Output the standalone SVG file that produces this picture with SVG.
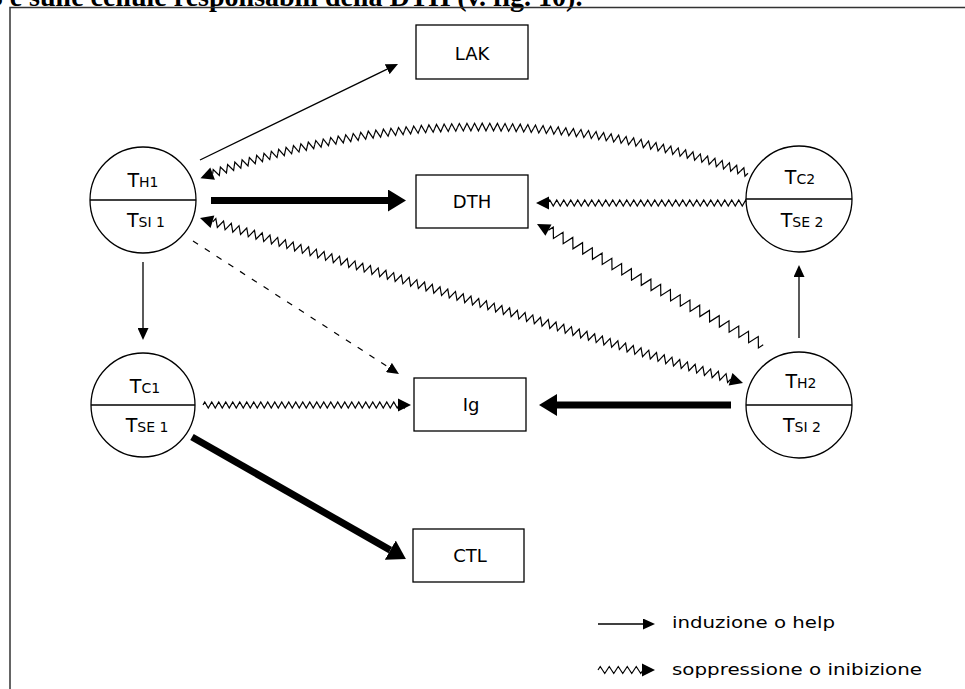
<svg xmlns="http://www.w3.org/2000/svg" xmlns:xlink="http://www.w3.org/1999/xlink" width="965" height="689" viewBox="0 0 965 689">
<style>
.ln{stroke:#000;stroke-width:1.3;fill:none}
.dash{stroke:#000;stroke-width:1.2;fill:none;stroke-dasharray:6 8}
.thick{stroke:#000;stroke-width:7;fill:none}
.zz{stroke:#000;stroke-width:1.2;fill:none;stroke-linejoin:miter}
.box{fill:#fff;stroke:#000;stroke-width:1.3}
.cir{fill:#fff;stroke:#000;stroke-width:1.3}
text{font-family:"DejaVu Sans","Liberation Sans",sans-serif;fill:#000}
.lbl{font-size:18px;text-anchor:middle}
.cl{font-size:14px;text-anchor:middle}
.big{font-size:19px}
.leg{font-size:16px}
</style>
<defs>
<marker id="mt" markerUnits="userSpaceOnUse" markerWidth="12" markerHeight="11" refX="0" refY="5.5" orient="auto" viewBox="0 0 12 11"><path d="M0,0 L12,5.5 L0,11 z" fill="#000"/></marker>
<marker id="mT" markerUnits="userSpaceOnUse" markerWidth="18" markerHeight="22" refX="0" refY="11" orient="auto" viewBox="0 0 18 22"><path d="M0,0 L18,11 L0,22 z" fill="#000"/></marker>
<polygon id="ah" points="0,0 -13,-6.5 -13,6.5" fill="#000"/>
<path id="t1" class="zz" d="M481,127 l1.896,-3.8 3.792,7.6 1.896,-3.8"/>
<g id="t2"><use href="#t1"/><use href="#t1" transform="rotate(0.5472 481 921)"/></g>
<g id="t4"><use href="#t2"/><use href="#t2" transform="rotate(1.0944 481 921)"/></g>
<g id="t8"><use href="#t4"/><use href="#t4" transform="rotate(2.1888 481 921)"/></g>
<g id="t16"><use href="#t8"/><use href="#t8" transform="rotate(4.3776 481 921)"/></g>
<g id="t32"><use href="#t16"/><use href="#t16" transform="rotate(8.7552 481 921)"/></g>
<g id="t64"><use href="#t32"/><use href="#t32" transform="rotate(17.5104 481 921)"/></g>
</defs>
<rect width="965" height="689" fill="#fff"/>
<text x="-16" y="6" style="font-family:'Liberation Serif','Times New Roman',serif;font-weight:bold;font-size:28px">B e sulle cellule responsabili della DTH (v. fig. 10).</text>
<path d="M10,689 V7.5 H965" fill="none" stroke="#333" stroke-width="1.5"/>

<g id="connectors">
<line class="ln" x1="200" y1="160" x2="387.2" y2="69.2" marker-end="url(#mt)"/>
<line class="ln" x1="143" y1="262" x2="143" y2="328" marker-end="url(#mt)"/>
<line class="ln" x1="799" y1="338" x2="799" y2="277" marker-end="url(#mt)"/>
<line class="dash" x1="193" y1="241" x2="388.9" y2="367.5" marker-end="url(#mt)"/>
<line class="thick" x1="211" y1="200.5" x2="388" y2="200.5" marker-end="url(#mT)"/>
<line class="thick" x1="731" y1="405" x2="557" y2="405" marker-end="url(#mT)"/>
<line class="thick" x1="192" y1="437" x2="390.3" y2="550.1" marker-end="url(#mT)"/>

<g id="zz-arch">
<g transform="rotate(-19.75 481 921)"><use href="#t64"/><use href="#t8" transform="rotate(35.0208 481 921)"/></g>
<use href="#ah" transform="rotate(-20.69 481 921) translate(481,127) rotate(180)"/>
</g>
<g id="zz-tc2-dth">
<path class="zz" d="M548,203 l1.75,-3 3.5,6 3.5,-6 3.5,6 3.5,-6 3.5,6 3.5,-6 3.5,6 3.5,-6 3.5,6 3.5,-6 3.5,6 3.5,-6 3.5,6 3.5,-6 3.5,6 3.5,-6 3.5,6 3.5,-6 3.5,6 3.5,-6 3.5,6 3.5,-6 3.5,6 3.5,-6 3.5,6 3.5,-6 3.5,6 3.5,-6 3.5,6 3.5,-6 3.5,6 3.5,-6 3.5,6 3.5,-6 3.5,6 3.5,-6 3.5,6 3.5,-6 3.5,6 3.5,-6 3.5,6 3.5,-6 3.5,6 3.5,-6 3.5,6 3.5,-6 3.5,6 3.5,-6 3.5,6 3.5,-6 3.5,6 3.5,-6 3.5,6 3.5,-6 3.5,6 3.5,-6 3.5,6 1.75,-3"/>
<use href="#ah" transform="translate(536,203) rotate(180)"/>
</g>
<g id="zz-tc1-ig">
<path class="zz" d="M203,405 l1.75,-3 3.5,6 3.5,-6 3.5,6 3.5,-6 3.5,6 3.5,-6 3.5,6 3.5,-6 3.5,6 3.5,-6 3.5,6 3.5,-6 3.5,6 3.5,-6 3.5,6 3.5,-6 3.5,6 3.5,-6 3.5,6 3.5,-6 3.5,6 3.5,-6 3.5,6 3.5,-6 3.5,6 3.5,-6 3.5,6 3.5,-6 3.5,6 3.5,-6 3.5,6 3.5,-6 3.5,6 3.5,-6 3.5,6 3.5,-6 3.5,6 3.5,-6 3.5,6 3.5,-6 3.5,6 3.5,-6 3.5,6 3.5,-6 3.5,6 3.5,-6 3.5,6 3.5,-6 3.5,6 3.5,-6 3.5,6 3.5,-6 3.5,6 3.5,-6 3.5,6 3.5,-6 3.5,6 1.75,-3"/>
<use href="#ah" transform="translate(411,405)"/>
</g>
<g id="zz-th1-th2" transform="translate(200,218) rotate(16.9)">
<path class="zz" d="M13.3,0 l2.02,-4 4.04,8 4.04,-8 4.04,8 4.04,-8 4.04,8 4.04,-8 4.04,8 4.04,-8 4.04,8 4.04,-8 4.04,8 4.04,-8 4.04,8 4.04,-8 4.04,8 4.04,-8 4.04,8 4.04,-8 4.04,8 4.04,-8 4.04,8 4.04,-8 4.04,8 4.04,-8 4.04,8 4.04,-8 4.04,8 4.04,-8 4.04,8 4.04,-8 4.04,8 4.04,-8 4.04,8 4.04,-8 4.04,8 4.04,-8 4.04,8 4.04,-8 4.04,8 4.04,-8 4.04,8 4.04,-8 4.04,8 4.04,-8 4.04,8 4.04,-8 4.04,8 4.04,-8 4.04,8 4.04,-8 4.04,8 4.04,-8 4.04,8 4.04,-8 4.04,8 4.04,-8 4.04,8 4.04,-8 4.04,8 4.04,-8 4.04,8 4.04,-8 4.04,8 4.04,-8 4.04,8 4.04,-8 4.04,8 4.04,-8 4.04,8 4.04,-8 4.04,8 4.04,-8 4.04,8 4.04,-8 4.04,8 4.04,-8 4.04,8 4.04,-8 4.04,8 4.04,-8 4.04,8 4.04,-8 4.04,8 4.04,-8 4.04,8 4.04,-8 4.04,8 4.04,-8 4.04,8 4.04,-8 4.04,8 4.04,-8 4.04,8 4.04,-8 4.04,8 4.04,-8 4.04,8 4.04,-8 4.04,8 4.04,-8 4.04,8 4.04,-8 4.04,8 4.04,-8 4.04,8 4.04,-8 4.04,8 4.04,-8 4.04,8 4.04,-8 4.04,8 4.04,-8 4.04,8 4.04,-8 4.04,8 4.04,-8 4.04,8 4.04,-8 4.04,8 4.04,-8 4.04,8 4.04,-8 4.04,8 4.04,-8 4.04,8 4.04,-8 4.04,8 4.04,-8 4.04,8 4.04,-8 4.04,8 4.04,-8 4.04,8 2.02,-4"/>
<use href="#ah" transform="rotate(180)"/>
<use href="#ah" transform="translate(567.5,0)"/>
</g>
<g id="zz-th2-dth" transform="translate(537,224) rotate(28.1)">
<path class="zz" d="M13,0 l2.766,-5 5.533,10 5.533,-10 5.533,10 5.533,-10 5.533,10 5.533,-10 5.533,10 5.533,-10 5.533,10 5.533,-10 5.533,10 5.533,-10 5.533,10 5.533,-10 5.533,10 5.533,-10 5.533,10 5.533,-10 5.533,10 5.533,-10 5.533,10 5.533,-10 5.533,10 5.533,-10 5.533,10 5.533,-10 5.533,10 5.533,-10 5.533,10 5.533,-10 5.533,10 5.533,-10 5.533,10 5.533,-10 5.533,10 5.533,-10 5.533,10 5.533,-10 5.533,10 5.533,-10 5.533,10 5.533,-10 5.533,10 2.766,-5"/>
<use href="#ah" transform="rotate(180)"/>
</g>
</g>

<g id="n-lak"><rect class="box" x="416" y="25" width="112" height="54"/><text class="lbl" x="472" y="60">LAK</text></g>
<g id="n-dth"><rect class="box" x="416" y="175" width="112" height="53"/><text class="lbl" x="472" y="208">DTH</text></g>
<g id="n-ig"><rect class="box" x="414" y="378" width="112" height="53"/><text class="lbl" x="471" y="411">Ig</text></g>
<g id="n-ctl"><rect class="box" x="413" y="529" width="111" height="53"/><text class="lbl" x="470" y="562">CTL</text></g>

<g id="n-th1"><circle class="cir" cx="143" cy="200" r="53"/><line class="ln" x1="90" y1="200" x2="196" y2="200"/>
<text class="cl" x="143" y="187"><tspan class="big">T</tspan>H1</text><text class="cl" x="146" y="227"><tspan class="big">T</tspan>SI 1</text></g>
<g id="n-tc1"><circle class="cir" cx="143" cy="405" r="52"/><line class="ln" x1="91" y1="405" x2="195" y2="405"/>
<text class="cl" x="145" y="393"><tspan class="big">T</tspan>C1</text><text class="cl" x="147" y="432"><tspan class="big">T</tspan>SE 1</text></g>
<g id="n-tc2"><circle class="cir" cx="799" cy="199" r="53"/><line class="ln" x1="746" y1="199" x2="852" y2="199"/>
<text class="cl" x="800" y="184"><tspan class="big">T</tspan>C2</text><text class="cl" x="802" y="227"><tspan class="big">T</tspan>SE 2</text></g>
<g id="n-th2"><circle class="cir" cx="799" cy="405" r="53"/><line class="ln" x1="746" y1="405" x2="852" y2="405"/>
<text class="cl" x="801" y="388"><tspan class="big">T</tspan>H2</text><text class="cl" x="802" y="432"><tspan class="big">T</tspan>SI 2</text></g>

<g id="legend">
<line class="ln" x1="598" y1="624" x2="643" y2="624" marker-end="url(#mt)"/>
<text class="leg" x="672" y="628" textLength="163" lengthAdjust="spacingAndGlyphs">induzione o help</text>
<path class="zz" d="M598,670 l2.25,-3.5 4.5,7 4.5,-7 4.5,7 4.5,-7 4.5,7 4.5,-7 4.5,7 4.5,-7 4.5,7 2.25,-3.5"/>
<use href="#ah" transform="translate(655,670)"/>
<text class="leg" x="672" y="675" textLength="250" lengthAdjust="spacingAndGlyphs">soppressione o inibizione</text>
</g>
</svg>
